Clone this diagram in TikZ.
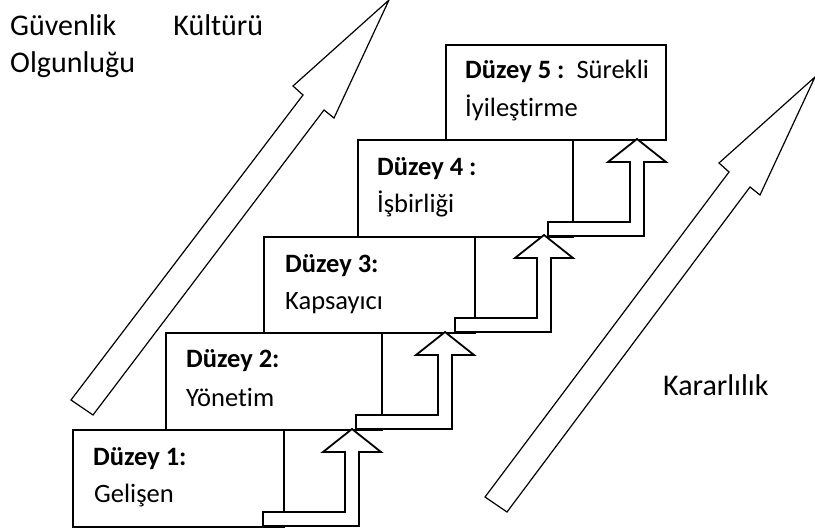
\documentclass[tikz,border=0pt]{standalone}
\usepackage{fontspec}
\setmainfont{Carlito}[Ligatures=NoCommon]
\begin{document}
\begin{tikzpicture}[x=1pt,y=-1pt,
  stepbox/.style={draw, line width=1.8pt, fill=white, inner sep=0pt, anchor=north west},
  bent/.style={draw, line width=1.8pt, fill=white, line join=miter},
  bigarrow/.style={draw, line width=1.2pt, fill=white, line join=miter},
  boxtext/.style={anchor=base west, inner sep=0pt, font=\fontsize{26.5}{30}\selectfont},
  outer/.style={anchor=base west, inner sep=0pt, font=\fontsize{30}{34}\selectfont}]
\useasboundingbox (0,0) rectangle (815,530);

% bent-up arrow leading from one level to the next
\newcommand\bentup[2]{%
  \draw[bent] (#1,#2) -- ++(96,0) -- ++(0,-74) -- ++(22,0) -- ++(-29,-23)
    -- ++(-29,23) -- ++(22,0) -- ++(0,60) -- ++(-82,0) -- cycle;}

% long diagonal arrows
\draw[bigarrow] (71,400) -- (93,415) -- (324,110) -- (334,118) -- (389,0)
  -- (293,86) -- (303,95) -- cycle;
\draw[bigarrow] (485,497) -- (507,512) -- (750,187) -- (760,195) -- (815,77)
  -- (719,163) -- (729,172) -- cycle;

% level boxes
\node[stepbox, minimum width=211pt, minimum height=97pt] (b1) at (72,429) {};
\node[stepbox, minimum width=216pt, minimum height=97pt] (b2) at (165,332) {};
\node[stepbox, minimum width=211pt, minimum height=96pt] (b3) at (263,236) {};
\node[stepbox, minimum width=215pt, minimum height=97pt] (b4) at (357,139) {};
\node[stepbox, minimum width=220pt, minimum height=95pt] (b5) at (445,44) {};

% connecting arrows
\bentup{263}{526}
\bentup{356}{429}
\bentup{455}{332}
\bentup{548}{236}

% box labels
\node[boxtext] (t1a) at (93,465) {\textbf{Düzey 1:}};
\node[boxtext] (t1b) at (94,502) {Gelişen};
\node[boxtext] (t2a) at (186,367) {\textbf{Düzey 2:}};
\node[boxtext] (t2b) at (186,406) {Yönetim};
\node[boxtext] (t3a) at (285,272) {\textbf{Düzey 3:}};
\node[boxtext] (t3b) at (285,309) {Kapsayıcı};
\node[boxtext] (t4a) at (377,175) {\textbf{Düzey 4 :}};
\node[boxtext] (t4b) at (377,212) {İşbirliği};
\node[boxtext] (t5a) at (465,78) {\textbf{Düzey 5 :}\ \ Sürekli};
\node[boxtext] (t5b) at (465,116) {İyileştirme};

% side labels
\node[outer] (g1) at (10,35) {\makebox[253pt][s]{Güvenlik Kültürü}};
\node[outer] (g2) at (10,72) {Olgunluğu};
\node[outer] (k1) at (663,395) {Kararlılık};
\end{tikzpicture}
\end{document}
